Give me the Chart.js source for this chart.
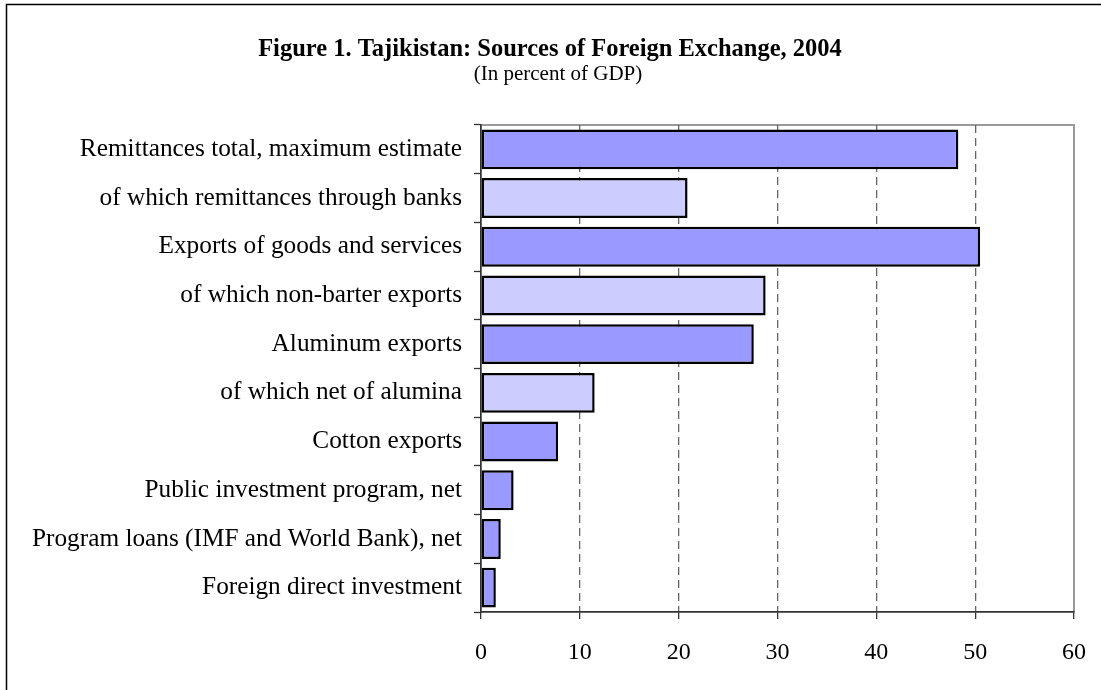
<!DOCTYPE html>
<html><head><meta charset="utf-8">
<script src="https://cdn.jsdelivr.net/npm/chart.js@4/dist/chart.umd.min.js"></script>
<style>html,body{margin:0;padding:0;background:#fff;}#wrap{width:1101px;height:690px;}</style>
</head><body><div id="wrap"><canvas id="c" width="1101" height="690"></canvas></div>
<script>
const categories = [
  "Remittances total, maximum estimate",
  "of which remittances through banks",
  "Exports of goods and services",
  "of which non-barter exports",
  "Aluminum exports",
  "of which net of alumina",
  "Cotton exports",
  "Public investment program, net",
  "Program loans (IMF and World Bank), net",
  "Foreign direct investment"
];
const values = [48.3, 20.9, 50.5, 28.8, 27.6, 11.5, 7.8, 3.3, 2.0, 1.5];
const isSubItem = [false, true, false, true, false, true, false, false, false, false];
const xTicks = [0, 10, 20, 30, 40, 50, 60];
const titleText = "Figure 1. Tajikistan: Sources of Foreign Exchange, 2004";
const subtitleText = "(In percent of GDP)";

const SERIF = "'Liberation Serif', 'Times New Roman', serif";

const framePlugin = {
  id: 'frame',
  beforeDraw(chart) {
    const ctx = chart.ctx, a = chart.chartArea;
    ctx.save();
    ctx.fillStyle = '#fff';
    ctx.fillRect(0, 0, chart.width, chart.height);
    ctx.strokeStyle = '#000';
    ctx.lineWidth = 1.5;
    ctx.beginPath();
    ctx.moveTo(6.5, chart.height + 5);
    ctx.lineTo(6.5, 4.5);
    ctx.lineTo(chart.width + 5, 4.5);
    ctx.stroke();
    ctx.strokeStyle = '#999';
    ctx.lineWidth = 2;
    ctx.strokeRect(a.left, a.top, a.right - a.left, a.bottom - a.top);
    ctx.fillStyle = '#000';
    ctx.textAlign = 'center';
    ctx.textBaseline = 'middle';
    ctx.font = "bold 24.5px " + SERIF;
    ctx.fillText(titleText, 550, 50);
    ctx.font = "21px " + SERIF;
    ctx.fillText(subtitleText, 558, 74);
    ctx.restore();
  }
};

new Chart(document.getElementById('c'), {
  type: 'bar',
  data: {
    labels: categories,
    datasets: [{
      data: values,
      backgroundColor: isSubItem.map(s => s ? '#CCCCFF' : '#9999FF'),
      borderColor: '#000',
      borderWidth: 2.5,
      borderSkipped: false,
      categoryPercentage: 1.0,
      barPercentage: 0.82
    }]
  },
  options: {
    indexAxis: 'y',
    responsive: false,
    animation: false,
    devicePixelRatio: 1,
    layout: { padding: { top: 125, right: 27, bottom: 0, left: 0 } },
    plugins: { legend: { display: false }, tooltip: { enabled: false } },
    scales: {
      x: {
        min: 0, max: 60,
        afterBuildTicks(scale) { scale.ticks = xTicks.map(v => ({ value: v })); },
        afterFit(scale) { scale.height = 78; scale.paddingRight = 0; scale.paddingLeft = 0; },
        grid: {
          color: ctx => (ctx.tick && (ctx.tick.value === 0 || ctx.tick.value === 60)) ? 'rgba(0,0,0,0)' : '#666',
          lineWidth: 1.3,
          tickColor: '#333',
          tickLength: 7,
          tickWidth: 1.3,
          drawOnChartArea: true
        },
        border: { display: true, color: '#333', width: 1.5, dash: [8, 5] },
        ticks: {
          color: '#000',
          font: { family: SERIF, size: 24 },
          padding: 19,
          maxRotation: 0
        }
      },
      y: {
        afterFit(scale) { scale.width = 481; scale.paddingTop = 0; scale.paddingBottom = 0; },
        grid: {
          offset: true,
          drawOnChartArea: false,
          tickColor: '#333',
          tickLength: 7,
          tickWidth: 1.3
        },
        border: { display: true, color: '#333', width: 1.5 },
        ticks: {
          color: '#000',
          font: { family: SERIF, size: 25.3 },
          padding: 12,
          autoSkip: false
        }
      }
    }
  },
  plugins: [framePlugin]
});
</script></body></html>
